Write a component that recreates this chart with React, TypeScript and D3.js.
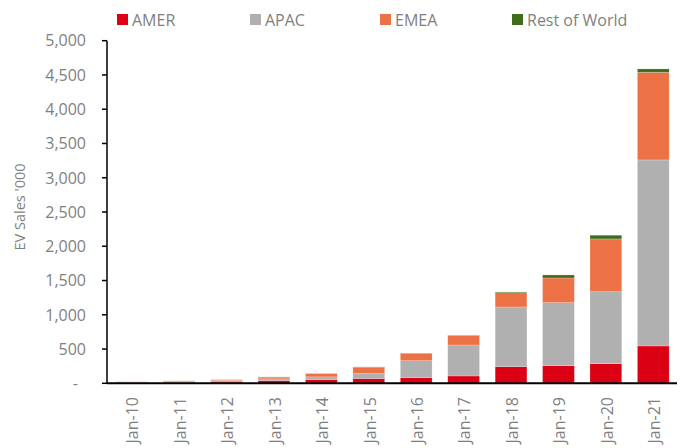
import * as d3 from "d3";

const WIDTH = 680;
const HEIGHT = 448;

// plot edges, in page pixels
const X0 = 108;
const X1 = 677;
const Y_BASE = 383.3;
const Y_TOP = 40.7;

const FONT = "'Open Sans', 'Liberation Sans', sans-serif";
const TEXT_GREY = "#7f7f7f";

const years = [
  "Jan-10", "Jan-11", "Jan-12", "Jan-13", "Jan-14", "Jan-15",
  "Jan-16", "Jan-17", "Jan-18", "Jan-19", "Jan-20", "Jan-21",
];

// EV sales, thousands
const amer = [8, 15, 18, 41, 55, 70, 82, 107, 242, 257, 286, 545];
const apac = [6, 10, 20, 24, 39, 72, 248, 452, 872, 920, 1051, 2715];
const emea = [5, 8, 10, 25, 48, 93, 108, 136, 209, 360, 770, 1280];
const rest = [2, 2, 3, 3, 2, 4, 3, 5, 10, 44, 54, 48];

const seriesNames = ["AMER", "APAC", "EMEA", "Rest of World"];
const seriesColors = ["#dc0014", "#b0b0b0", "#ec7246", "#3d6d1b"];

const yTicks = [0, 500, 1000, 1500, 2000, 2500, 3000, 3500, 4000, 4500, 5000];

// legend square x positions
const legendX = [117, 250, 380, 512];

export default function App() {
  const table = years.map((year, i) => ({
    year,
    AMER: amer[i],
    APAC: apac[i],
    EMEA: emea[i],
    "Rest of World": rest[i],
  }));

  const stacked = d3.stack<any>().keys(seriesNames)(table);

  const x = d3
    .scaleBand()
    .domain(years)
    .range([X0, X1])
    .paddingInner(0.33)
    .paddingOuter(0.165);

  const y = d3.scaleLinear().domain([0, 5000]).range([Y_BASE, Y_TOP]);
  const fmt = d3.format(",");

  return (
    <svg
      width={WIDTH}
      height={HEIGHT}
      style={{ position: "absolute", left: 0, top: 0, background: "#fff" }}
      fontFamily={FONT}>
      {/* ── Legend ── */}
      {seriesNames.map((name, i) => (
        <g key={name}>
          <rect x={legendX[i]} y={14} width={11} height={11} fill={seriesColors[i]} />
          <text x={legendX[i] + 15} y={25.5} fontSize={16} fill={TEXT_GREY}>
            {name}
          </text>
        </g>
      ))}

      {/* ── Stacked bars ── */}
      {stacked.map((layer, si) => (
        <g key={layer.key} fill={seriesColors[si]}>
          {layer.map((d, i) => (
            <rect
              key={years[i]}
              x={x(years[i])}
              y={y(d[1])}
              width={x.bandwidth()}
              height={Math.max(0, y(d[0]) - y(d[1]))}
              stroke="#ffffff"
              strokeOpacity={0.35}
              strokeWidth={0.6}
            />
          ))}
        </g>
      ))}

      {/* ── Y axis ── */}
      <line x1={X0 - 1} x2={X0 - 1} y1={Y_TOP} y2={Y_BASE} stroke="#000" strokeWidth={1.5} />
      {yTicks.map((t) => (
        <g key={t}>
          <line x1={X0 - 6} x2={X0 - 1} y1={y(t)} y2={y(t)} stroke="#000" strokeWidth={1.5} />
          <text
            x={t === 0 ? 78 : 86}
            y={y(t)}
            dy="0.36em"
            textAnchor="end"
            fontSize={16}
            fill={TEXT_GREY}>
            {t === 0 ? "-" : fmt(t)}
          </text>
        </g>
      ))}

      {/* ── X axis ── */}
      <line x1={X0 - 1} x2={X1} y1={Y_BASE} y2={Y_BASE} stroke="#000" strokeWidth={2} />
      {years.map((yr) => (
        <text
          key={yr}
          transform={`translate(${x(yr)! + x.bandwidth() / 2 + 1},397) rotate(-90)`}
          dy="0.36em"
          textAnchor="end"
          fontSize={16}
          fill={TEXT_GREY}>
          {yr}
        </text>
      ))}

      {/* ── Y axis title ── */}
      <text
        transform="translate(20,207) rotate(-90)"
        dy="0.36em"
        textAnchor="middle"
        fontSize={14.5}
        fill={TEXT_GREY}>
        EV Sales '000
      </text>
    </svg>
  );
}
